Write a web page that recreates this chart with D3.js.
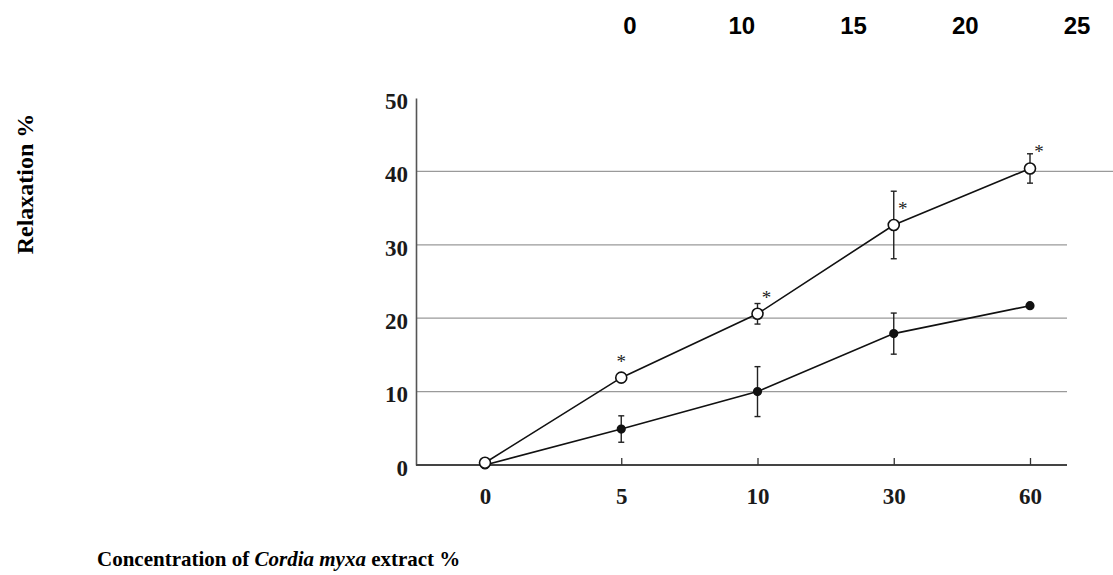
<!DOCTYPE html>
<html>
<head>
<meta charset="utf-8">
<script src="https://cdn.jsdelivr.net/npm/d3@7"></script>
<style>
  body { margin: 0; background: #fff; }
  svg { display: block; }
  .tick text { font-family: "Liberation Serif", "Times New Roman", serif; font-weight: bold; font-size: 23px; fill: #1a1a1a; }
</style>
</head>
<body>
<script>
// data
var concentrations = ["0", "5", "10", "30", "60"];
var extractMean = [0.3, 11.9, 20.6, 32.7, 40.4];
var extractErr = [0.4, 0.6, 1.4, 4.6, 2.0];
var controlMean = [0, 4.9, 10.0, 17.9, 21.7];
var controlErr = [0, 1.8, 3.4, 2.8, 0];
var significant = [false, true, true, true, true];
var yTicks = [0, 10, 20, 30, 40, 50];
var topLabels = ["0", "10", "15", "20", "25"];

var W = 1113, H = 575;

var svg = d3.select("body").append("svg")
  .attr("width", W)
  .attr("height", H);

var x = d3.scalePoint().domain(concentrations).range([485, 1030]);
var y = d3.scaleLinear().domain([0, 50]).range([465, 98]);
var topX = d3.scalePoint().domain(topLabels).range([630, 1077]);

// stray labels across the top
svg.append("g").selectAll("text")
  .data(topLabels)
  .enter().append("text")
    .attr("x", function(d) { return topX(d); })
    .attr("y", 34)
    .attr("text-anchor", "middle")
    .style("font-family", "'Liberation Sans', Arial, sans-serif")
    .style("font-weight", "bold")
    .style("font-size", "24px")
    .text(function(d) { return d; });

// gridlines
svg.append("g").selectAll("line")
  .data(yTicks.filter(function(d) { return d > 0 && d < 50; }))
  .enter().append("line")
    .attr("x1", 416)
    .attr("x2", function(d) { return d == 40 ? W : 1067; })
    .attr("y1", function(d) { return y(d); })
    .attr("y2", function(d) { return y(d); })
    .attr("stroke", "#9a9a9a")
    .attr("stroke-width", 1.2);

// y axis
var yAxis = svg.append("g")
  .attr("transform", "translate(416,0)")
  .call(d3.axisLeft(y).tickValues(yTicks).tickSize(0).tickPadding(8));
yAxis.select(".domain").attr("stroke", "#555").attr("stroke-width", 1.6);
yAxis.selectAll(".tick text").attr("dy", "0.45em");

// x axis
var xAxis = svg.append("g")
  .attr("transform", "translate(0,465)")
  .call(d3.axisBottom(x).tickSize(-7).tickSizeOuter(0).tickPadding(23));
xAxis.select(".domain").attr("d", "M416,0H1067").attr("stroke", "#444").attr("stroke-width", 2);
xAxis.selectAll(".tick line").attr("stroke", "#333").attr("stroke-width", 1.3);
xAxis.selectAll(".tick").filter(function(d) { return d == "0"; }).select("line").remove();

function series(mean, err, open) {
  var pts = concentrations.map(function(c, i) { return {c: c, v: mean[i], e: err[i], s: significant[i]}; });
  var g = svg.append("g");

  g.append("path")
    .datum(pts)
    .attr("fill", "none")
    .attr("stroke", "#111")
    .attr("stroke-width", 1.6)
    .attr("d", d3.line().x(function(d) { return x(d.c); }).y(function(d) { return y(d.v); }));

  var eb = g.selectAll(".err").data(pts.filter(function(d) { return d.e > 0.5; }))
    .enter().append("g").attr("class", "err");
  eb.append("line")
    .attr("x1", function(d) { return x(d.c); }).attr("x2", function(d) { return x(d.c); })
    .attr("y1", function(d) { return y(d.v + d.e); }).attr("y2", function(d) { return y(d.v - d.e); })
    .attr("stroke", "#222").attr("stroke-width", 1.4);
  [1, -1].forEach(function(sgn) {
    eb.append("line")
      .attr("x1", function(d) { return x(d.c) - 3; }).attr("x2", function(d) { return x(d.c) + 3; })
      .attr("y1", function(d) { return y(d.v + sgn * d.e); }).attr("y2", function(d) { return y(d.v + sgn * d.e); })
      .attr("stroke", "#222").attr("stroke-width", 1.4);
  });

  g.selectAll(".pt").data(pts)
    .enter().append("circle")
      .attr("class", "pt")
      .attr("cx", function(d) { return x(d.c); })
      .attr("cy", function(d) { return y(d.v); })
      .attr("r", open ? 5.5 : 3.8)
      .attr("fill", open ? "#fff" : "#111")
      .attr("stroke", "#111")
      .attr("stroke-width", 1.6);
  return pts;
}

var ctrl = series(controlMean, controlErr, false);
var ext = series(extractMean, extractErr, true);

// significance stars, set just above each open circle
svg.append("g").selectAll("text")
  .data(ext.filter(function(d) { return d.s; }))
  .enter().append("text")
    .attr("x", function(d, i) { return x(d.c) + (i == 0 ? 0 : 9); })
    .attr("y", function(d) { return y(d.v) - 10; })
    .attr("text-anchor", "middle")
    .style("font-family", "'Liberation Serif', serif")
    .style("font-size", "19px")
    .style("fill", "#222")
    .text("*");

// axis titles
svg.append("text")
  .attr("transform", "translate(33,184) rotate(-90)")
  .attr("text-anchor", "middle")
  .style("font-family", "'Liberation Serif', 'Times New Roman', serif")
  .style("font-weight", "bold")
  .style("font-size", "24px")
  .text("Relaxation %");

var xt = svg.append("text")
  .attr("x", 97)
  .attr("y", 566)
  .style("font-family", "'Liberation Serif', 'Times New Roman', serif")
  .style("font-weight", "bold")
  .style("font-size", "21px");
xt.append("tspan").text("Concentration of ");
xt.append("tspan").style("font-style", "italic").text("Cordia myxa");
xt.append("tspan").text(" extract %");
</script>
</body>
</html>
